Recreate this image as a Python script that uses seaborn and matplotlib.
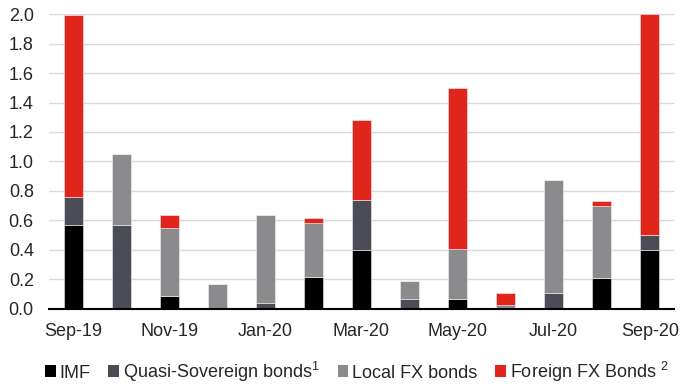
import matplotlib
matplotlib.use("Agg")
import matplotlib.pyplot as plt
from matplotlib.patches import Patch
import seaborn as sns
import pandas as pd
import numpy as np

months = ["Sep-19", "Oct-19", "Nov-19", "Dec-19", "Jan-20", "Feb-20", "Mar-20",
          "Apr-20", "May-20", "Jun-20", "Jul-20", "Aug-20", "Sep-20"]
imf = [0.57, 0.00, 0.09, 0.00, 0.00, 0.22, 0.40, 0.00, 0.07, 0.00, 0.00, 0.21, 0.40]
quasi = [0.19, 0.57, 0.00, 0.00, 0.04, 0.00, 0.34, 0.07, 0.00, 0.00, 0.11, 0.00, 0.10]
local_fx = [0.00, 0.48, 0.46, 0.17, 0.60, 0.36, 0.00, 0.12, 0.34, 0.03, 0.765, 0.49, 0.00]
foreign_fx = [1.23, 0.00, 0.09, 0.00, 0.00, 0.035, 0.54, 0.00, 1.09, 0.075, 0.00, 0.035, 1.50]

series_names = ["IMF", "Quasi-Sovereign bonds", "Local FX bonds", "Foreign FX Bonds"]
series_vals = [imf, quasi, local_fx, foreign_fx]
colors = {"IMF": "#000000", "Quasi-Sovereign bonds": "#4c4c56",
          "Local FX bonds": "#8b8b8d", "Foreign FX Bonds": "#e2251b"}
legend_labels = ["IMF", "Quasi-Sovereign bonds$^{1}$", "Local FX bonds", "Foreign FX Bonds $^{2}$"]
tick_labels = months[::2]

rows = []
for name, vals in zip(series_names, series_vals):
    for i, v in enumerate(vals):
        rows.append({"idx": i, "series": name, "value": v})
df = pd.DataFrame(rows)

sns.set_theme(style="white")
FONT = "Liberation Sans"
plt.rcParams["font.family"] = [FONT, "DejaVu Sans"]
plt.rcParams["mathtext.fontset"] = "custom"
plt.rcParams["mathtext.rm"] = FONT
plt.rcParams["mathtext.it"] = FONT
FS = 13

fig = plt.figure(figsize=(6.82, 3.87), dpi=100)
ax = fig.add_axes([0.072, 0.2016, 0.916, 0.7622])

# first hue level is drawn on top in seaborn stacking
sns.histplot(data=df, x="idx", weights="value", hue="series",
             hue_order=series_names[::-1], multiple="stack", discrete=True,
             shrink=0.4, palette=colors, alpha=1, edgecolor="#f0f0f0",
             linewidth=0.4, legend=False, ax=ax)

ax.set_xlim(-0.5, len(months) - 0.5)
ax.set_ylim(0, 2.0)
ax.set_yticks(np.arange(0, 2.01, 0.2))
ax.set_yticklabels([f"{v:.1f}" for v in np.arange(0, 2.01, 0.2)], fontsize=FS)
ax.yaxis.grid(True, color="#d9d9d9", linewidth=1)
ax.set_axisbelow(True)
ax.tick_params(axis="y", length=0, pad=11)

ax.set_xticks(range(0, len(months), 2))
ax.set_xticklabels(tick_labels, fontsize=FS)
ax.tick_params(axis="x", which="major", length=0, pad=10)
ax.set_xticks(np.arange(-0.5, len(months), 1), minor=True)
ax.tick_params(axis="x", which="minor", length=4.5, width=1.2, color="black", direction="out")
ax.set_xlabel("")
ax.set_ylabel("")

for s in ["top", "right", "left"]:
    ax.spines[s].set_visible(False)
ax.spines["bottom"].set_color("black")
ax.spines["bottom"].set_linewidth(1.5)

handles = [Patch(facecolor=colors[n], edgecolor="none") for n in series_names]
fig.legend(handles, legend_labels, loc="center", bbox_to_anchor=(0.523, 0.04),
           ncol=4, frameon=False, fontsize=FS, handlelength=0.6, handleheight=0.6,
           handletextpad=0.2, columnspacing=1.0, borderaxespad=0, borderpad=0)

fig.savefig("out.png", dpi=100)
